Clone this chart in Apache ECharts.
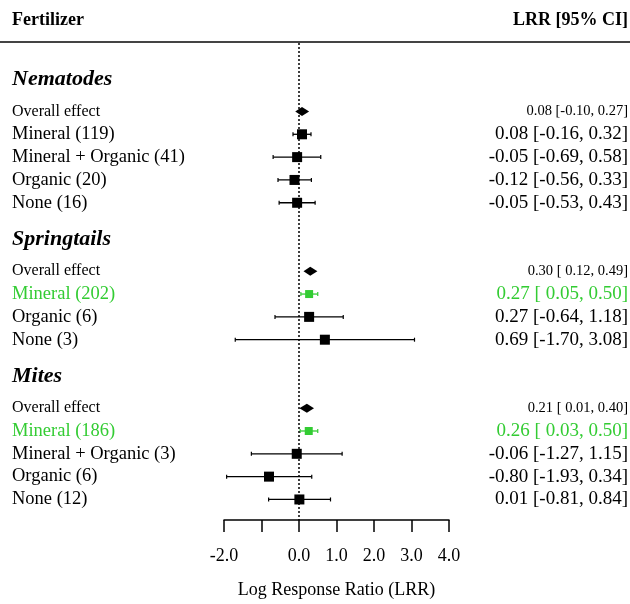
<!DOCTYPE html>
<html lang="en" style="height: 100%">
    <head>
        <meta charset="utf-8">
        <title>Forest plot</title>
    </head>
    <body style="height: 100%; margin: 0; background: #fff">
        <div id="container" style="width: 630px; height: 604px"></div>
        <script src="https://cdn.jsdelivr.net/npm/echarts@6/dist/echarts.min.js"></script>
        <script>
            let groups = ["Nematodes", "Springtails", "Mites"];
            let rowGroup = [0, 0, 0, 0, 0, 1, 1, 1, 1, 2, 2, 2, 2, 2];
            let rowLabels = [
                "Overall effect", "Mineral (119)", "Mineral + Organic (41)", "Organic (20)", "None (16)",
                "Overall effect", "Mineral (202)", "Organic (6)", "None (3)",
                "Overall effect", "Mineral (186)", "Mineral + Organic (3)", "Organic (6)", "None (12)"
            ];
            let estimates = [0.08, 0.08, -0.05, -0.12, -0.05, 0.30, 0.27, 0.27, 0.69, 0.21, 0.26, -0.06, -0.80, 0.01];
            let lowers = [-0.10, -0.16, -0.69, -0.56, -0.53, 0.12, 0.05, -0.64, -1.70, 0.01, 0.03, -1.27, -1.93, -0.81];
            let uppers = [0.27, 0.32, 0.58, 0.33, 0.43, 0.49, 0.50, 1.18, 3.08, 0.40, 0.50, 1.15, 0.34, 0.84];
            let isOverall = [true, false, false, false, false, true, false, false, false, true, false, false, false, false];
            let isHighlight = [false, false, false, false, false, false, true, false, false, false, true, false, false, false];
            let tickLabels = ["-2.0", "", "0.0", "1.0", "2.0", "3.0", "4.0"];

            const FONT = "Liberation Serif";
            const GREEN = "#33cc33";

            // row positions: group title, a gap, then one step per row
            let headerPos = [];
            let rowPos = [];
            let p = 0.1;
            for (let g = 0; g < groups.length; g++) {
                headerPos.push(p);
                p += 1.4;
                for (let i = 0; i < rowGroup.length; i++) {
                    if (rowGroup[i] === g) {
                        rowPos.push(p);
                        p += 1;
                    }
                }
                p += 0.6;
            }

            function fmt(v) {
                return v.toFixed(2);
            }

            function ciText(i) {
                let lo = lowers[i] >= 0 ? " " + fmt(lowers[i]) : fmt(lowers[i]);
                return fmt(estimates[i]) + " [" + lo + ", " + fmt(uppers[i]) + "]";
            }

            let rowData = estimates.map(function (v, i) {
                return [v, lowers[i], uppers[i], rowPos[i], i];
            });

            function renderRow(params, api) {
                let i = api.value(4);
                let y = api.value(3);
                let c = api.coord([api.value(0), y]);
                let lo = api.coord([api.value(1), y]);
                let hi = api.coord([api.value(2), y]);
                let color = isHighlight[i] ? GREEN : "#000";
                let children = [];
                let small = isOverall[i];

                children.push({
                    type: "text",
                    x: 12,
                    y: c[1],
                    style: {
                        text: rowLabels[i],
                        fill: color,
                        font: (small ? "16px " : "18.5px ") + FONT,
                        verticalAlign: "middle",
                        align: "left"
                    }
                });
                children.push({
                    type: "text",
                    x: 628,
                    y: c[1],
                    style: {
                        text: ciText(i),
                        fill: color,
                        font: (small ? "14.5px " : "19px ") + FONT,
                        verticalAlign: "middle",
                        align: "right"
                    }
                });

                if (small) {
                    children.push({
                        type: "polygon",
                        shape: {
                            points: [[lo[0], c[1]], [c[0], c[1] - 4.5], [hi[0], c[1]], [c[0], c[1] + 4.5]]
                        },
                        style: { fill: "#000" }
                    });
                } else {
                    children.push({
                        type: "line",
                        shape: { x1: lo[0], y1: c[1], x2: hi[0], y2: c[1] },
                        style: { stroke: color, lineWidth: 1.3 }
                    });
                    children.push({
                        type: "line",
                        shape: { x1: lo[0], y1: c[1] - 2, x2: lo[0], y2: c[1] + 2 },
                        style: { stroke: color, lineWidth: 1.2 }
                    });
                    children.push({
                        type: "line",
                        shape: { x1: hi[0], y1: c[1] - 2, x2: hi[0], y2: c[1] + 2 },
                        style: { stroke: color, lineWidth: 1.2 }
                    });
                    let s = isHighlight[i] ? 8 : 10;
                    children.push({
                        type: "rect",
                        shape: { x: c[0] - s / 2, y: c[1] - s / 2, width: s, height: s },
                        style: { fill: color }
                    });
                }

                return { type: "group", children: children };
            }

            function renderHeader(params, api) {
                let c = api.coord([0, api.value(1)]);
                return {
                    type: "text",
                    x: 12,
                    y: c[1],
                    style: {
                        text: groups[api.value(2)],
                        fill: "#000",
                        font: "italic bold 22px " + FONT,
                        verticalAlign: "middle",
                        align: "left"
                    }
                };
            }

            function drawChart() {
                let dom = document.getElementById("container");
                let chart = echarts.init(dom, null, { renderer: "canvas" });
                let option = {
                    backgroundColor: "#fff",
                    animation: false,
                    textStyle: { fontFamily: FONT },
                    grid: { left: 224, width: 225, top: 43, bottom: 80 },
                    xAxis: {
                        type: "value",
                        min: -2,
                        max: 4,
                        interval: 1,
                        splitLine: { show: false },
                        axisLine: { show: true, onZero: false, lineStyle: { color: "#000", width: 1.5 } },
                        axisTick: { show: true, length: 12, lineStyle: { color: "#000", width: 1.5 } },
                        axisLabel: {
                            margin: 27,
                            color: "#000",
                            fontSize: 18,
                            fontFamily: FONT,
                            formatter: function (v) {
                                return tickLabels[Math.round(v) + 2];
                            }
                        },
                        name: "Log Response Ratio (LRR)",
                        nameLocation: "middle",
                        nameGap: 61,
                        nameTextStyle: { color: "#000", fontSize: 18, fontFamily: FONT }
                    },
                    yAxis: {
                        type: "value",
                        inverse: true,
                        min: -1.5,
                        max: 19.4,
                        show: false
                    },
                    graphic: [
                        {
                            type: "line",
                            shape: { x1: 0, y1: 42, x2: 630, y2: 42 },
                            style: { stroke: "#444", lineWidth: 2 }
                        },
                        {
                            type: "text",
                            x: 12,
                            y: 20,
                            style: { text: "Fertilizer", font: "bold 18px " + FONT, fill: "#000", verticalAlign: "middle" }
                        },
                        {
                            type: "text",
                            x: 628,
                            y: 20,
                            style: { text: "LRR [95% CI]", font: "bold 18px " + FONT, fill: "#000", verticalAlign: "middle", align: "right" }
                        }
                    ],
                    series: [
                        {
                            type: "custom",
                            renderItem: renderRow,
                            data: rowData,
                            clip: false,
                            markLine: {
                                silent: true,
                                symbol: "none",
                                label: { show: false },
                                lineStyle: { color: "#000", width: 1.5, type: [2, 2] },
                                data: [{ xAxis: 0 }]
                            }
                        },
                        {
                            type: "custom",
                            renderItem: renderHeader,
                            data: headerPos.map(function (hp, g) { return [0, hp, g]; }),
                            clip: false
                        }
                    ]
                };
                chart.setOption(option);
            }

            drawChart();
        </script>
    </body>
</html>
